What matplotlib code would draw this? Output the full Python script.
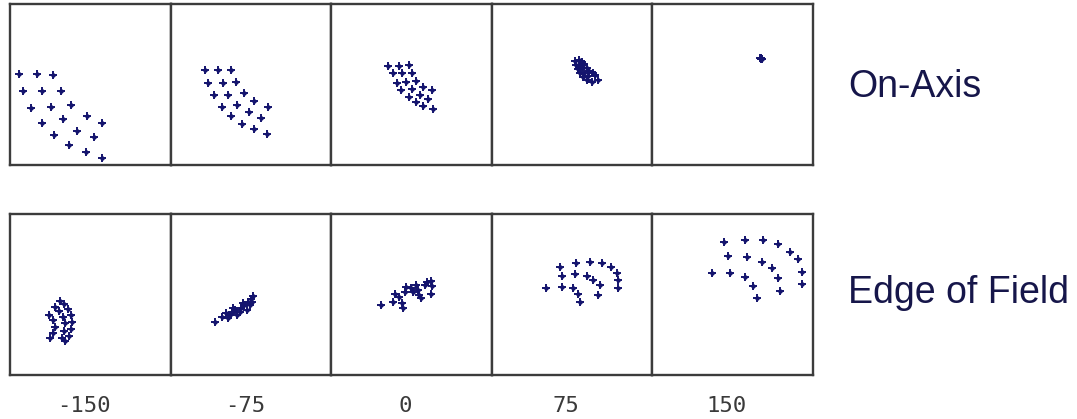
import matplotlib
matplotlib.use("Agg")
import matplotlib.pyplot as plt
import numpy as np

# focus shift for each column of spot diagrams
focus_labels = ["-150", "-75", "0", "75", "150"]
row_labels = ["On-Axis", "Edge of Field"]

# ray intercepts (x, y), panel half-width = 80 units
on_axis_m150 = [(-70.9, 10.5), (-53.6, 10.5), (-36.9, 9.5), (-67.6, -6.2), (-48.6, -6.2),
                (-29.3, -6.2), (-59.3, -23.8), (-39.3, -22.2), (-19.3, -20.5), (-48.6, -38.2),
                (-26.9, -34.8), (-3.6, -31.2), (12.1, -38.8), (-36.3, -50.5), (-12.9, -46.2),
                (4.1, -52.2), (-21.3, -60.5), (-4.6, -67.8), (12.1, -73.5)]
on_axis_m75 = [(-45.8, 14.5), (-33.1, 14.5), (-19.8, 14.5), (-43.1, 1.8), (-28.1, 1.2),
               (-15.1, 2.5), (-36.8, -10.2), (-22.4, -10.5), (-6.8, -8.2), (-29.1, -22.2),
               (-13.4, -20.5), (3.6, -16.2), (16.9, -22.2), (-19.8, -31.5), (-1.4, -27.8),
               (10.3, -33.2), (-9.1, -39.5), (3.6, -44.8), (16.6, -49.5)]
on_axis_0 = [(-22.9, 18.5), (-12.3, 18.5), (-2.3, 19.5), (-17.9, 11.2), (-8.9, 11.8),
             (1.1, 11.2), (-14.6, 1.8), (-5.3, 2.8), (4.4, 3.5), (-10.3, -5.5),
             (1.1, -4.8), (12.1, -2.8), (21.1, -5.5), (-2.3, -12.2), (8.8, -10.5),
             (16.4, -14.5), (4.4, -17.8), (12.1, -21.5), (22.1, -24.2)]
on_axis_p75 = [(3.3, 23.8), (7.3, 24.5), (10.6, 22.8), (3.9, 19.5), (8.3, 19.5),
               (12.6, 20.2), (5.9, 15.5), (10.6, 16.2), (14.9, 16.2), (8.3, 11.8),
               (12.6, 11.8), (17.3, 13.8), (21.6, 11.8), (11.6, 7.8), (16.6, 8.5),
               (23.3, 9.5), (14.9, 4.5), (20.6, 2.8), (26.6, 4.5)]
on_axis_p150 = [(28.0, 26.8), (28.8, 26.2), (29.5, 25.6), (28.4, 25.5), (29.2, 26.9)]

edge_m150 = [(-30.3, -6.5), (-26.3, -9.8), (-21.9, -14.5), (-19.6, -20.5), (-18.6, -27.2),
             (-19.3, -34.5), (-20.9, -41.2), (-25.3, -46.5), (-35.3, -12.2), (-30.9, -16.5),
             (-26.9, -22.2), (-25.3, -28.8), (-25.9, -36.5), (-28.6, -43.2), (-40.9, -20.5),
             (-36.9, -25.5), (-35.3, -32.2), (-36.9, -38.8), (-40.3, -43.8)]
edge_m75 = [(-35.8, -27.2), (-28.4, -22.2), (-25.1, -18.8), (-22.4, -23.2), (-19.1, -17.8),
            (-15.8, -15.5), (-14.1, -20.5), (-9.8, -13.8), (-6.4, -10.5), (-4.1, -15.5),
            (-2.4, -7.8), (0.3, -4.5), (2.6, -1.2), (1.6, -7.2), (-10.8, -17.8),
            (-20.8, -20.5), (-7.4, -8.8), (-17.4, -13.2), (-0.8, -10.5)]
edge_0 = [(-30.3, -10.5), (-17.9, -7.2), (-16.3, 0.2), (-12.3, -2.2), (-8.9, -8.8),
          (-7.9, -13.8), (-6.3, 2.8), (-5.6, 7.8), (-0.3, 6.2), (2.1, 2.2),
          (4.4, 9.5), (6.4, 4.5), (7.8, -0.5), (9.8, -3.8), (13.8, 9.5),
          (15.4, 12.2), (19.8, 13.5), (21.1, 8.8), (19.8, 0.2)]
edge_p75 = [(-11.8, 27.8), (3.9, 31.2), (18.3, 32.2), (29.9, 31.2), (39.3, 27.8),
            (44.9, 21.2), (45.9, 14.5), (45.9, 6.2), (-10.1, 18.5), (3.3, 20.2),
            (14.9, 18.5), (21.6, 14.5), (28.3, 9.5), (26.6, -0.5), (-25.8, 6.2),
            (-10.1, 7.8), (1.6, 6.8), (6.6, 0.2), (8.3, -7.2)]
edge_p150 = [(-8.3, 52.2), (12.8, 54.5), (31.1, 54.5), (46.1, 50.2), (57.8, 42.8),
             (66.1, 35.2), (69.4, 22.8), (69.4, 10.2), (-3.9, 38.8), (15.1, 37.2),
             (29.4, 32.8), (39.4, 26.8), (46.1, 16.2), (47.8, 3.5), (-20.6, 21.2),
             (-2.3, 21.2), (12.8, 17.8), (21.1, 8.8), (24.4, -3.8)]

rows = [
    [on_axis_m150, on_axis_m75, on_axis_0, on_axis_p75, on_axis_p150],
    [edge_m150, edge_m75, edge_0, edge_p75, edge_p150],
]

W, H = 1077, 419
SPOT_COLOR = "#14146e"
TEXT_COLOR = "#16164a"
FRAME_COLOR = "#3c3c3c"

fig = plt.figure(figsize=(W / 100, H / 100), dpi=100)
fig.patch.set_facecolor("white")

panel_w, panel_h = 160.5, 161
row_tops = [4, 214]

for r, spots_row in enumerate(rows):
    for c, spots in enumerate(spots_row):
        left = 10 + panel_w * c
        top = row_tops[r]
        ax = fig.add_axes([left / W, 1 - (top + panel_h) / H, panel_w / W, panel_h / H])
        pts = np.array(spots)
        ax.plot(pts[:, 0], pts[:, 1], linestyle="none", marker="+", ms=5.5, mew=1.4,
                color=SPOT_COLOR)
        ax.plot(pts[:, 0], pts[:, 1], linestyle="none", marker="o", ms=3.2, mew=0,
                color=SPOT_COLOR)
        ax.set_xlim(-80.25, 80.25)
        ax.set_ylim(-80.5, 80.5)
        ax.set_xticks([])
        ax.set_yticks([])
        for sp in ax.spines.values():
            sp.set_color(FRAME_COLOR)
            sp.set_linewidth(1.7)

# focus labels under the columns
for c, lab in enumerate(focus_labels):
    xc = 10 + panel_w * c + panel_w / 2 - 6
    fig.text(xc / W, 1 - 406 / H, lab, ha="center", va="center",
             family="DejaVu Sans Mono", fontsize=16, color="#3a3a3a")

# row titles on the right
for r, lab in enumerate(row_labels):
    yc = [87, 293][r]
    fig.text(848 / W, 1 - yc / H, lab, ha="left", va="center",
             family="Liberation Sans", fontsize=27, color=TEXT_COLOR)

fig.savefig("out.png", dpi=100, facecolor="white")
